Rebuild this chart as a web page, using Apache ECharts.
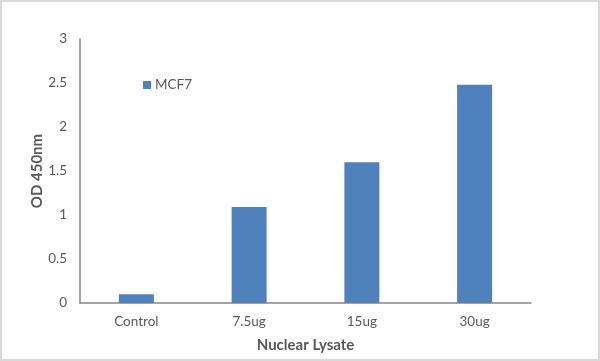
<!DOCTYPE html>
<html><head><meta charset="utf-8">
<script src="https://cdn.jsdelivr.net/npm/echarts@6/dist/echarts.min.js"></script>
<style>html,body{margin:0;padding:0;background:#fff}#c{width:600px;height:361px}#b{position:absolute;left:0;top:0;width:600px;height:361px;box-sizing:border-box;border:2px solid #d9d9d9;pointer-events:none}</style>
</head><body><div id="c"></div><div id="b"></div>
<script>
const categories = ['Control', '7.5ug', '15ug', '30ug'];
const seriesName = 'MCF7';
const values = [0.1, 1.09, 1.6, 2.48];
const chart = echarts.init(document.getElementById('c'));
const font = 'Lato, "Open Sans", sans-serif';
chart.setOption({
  animation: false,
  textStyle: {fontFamily: font},
  legend: {
    data: [seriesName], left: 138, top: 73, itemWidth: 8, itemHeight: 8, itemGap: 4,
    icon: 'rect', textStyle: {color: '#595959', fontSize: 13.5, fontFamily: font, padding: [0,0,0,-1]}
  },
  grid: {left: 80, right: 69, top: 39, bottom: 58},
  xAxis: {
    type: 'category', data: categories,
    axisLine: {lineStyle: {color: '#868686', width: 1.5}},
    axisTick: {show: false},
    axisLabel: {color: '#595959', fontSize: 13.5, margin: 12, fontFamily: font},
    name: 'Nuclear Lysate', nameLocation: 'middle', nameGap: 35, nameMoveOverlap: false,
    nameTextStyle: {color: '#595959', fontSize: 15, fontWeight: 'bold', fontFamily: font}
  },
  yAxis: {
    type: 'value', min: 0, max: 3, interval: 0.5,
    axisLine: {show: true, lineStyle: {color: '#868686', width: 1.5}},
    axisTick: {show: false}, splitLine: {show: false},
    axisLabel: {color: '#595959', fontSize: 13.5, margin: 13, fontFamily: font},
    name: 'OD 450nm', nameLocation: 'middle', nameGap: 35, nameMoveOverlap: false,
    nameTextStyle: {color: '#595959', fontSize: 15, fontWeight: 'bold', fontFamily: font}
  },
  series: [{
    name: seriesName, type: 'bar', data: values, barWidth: 35,
    itemStyle: {color: '#4F81BD'}
  }]
});
</script></body></html>
